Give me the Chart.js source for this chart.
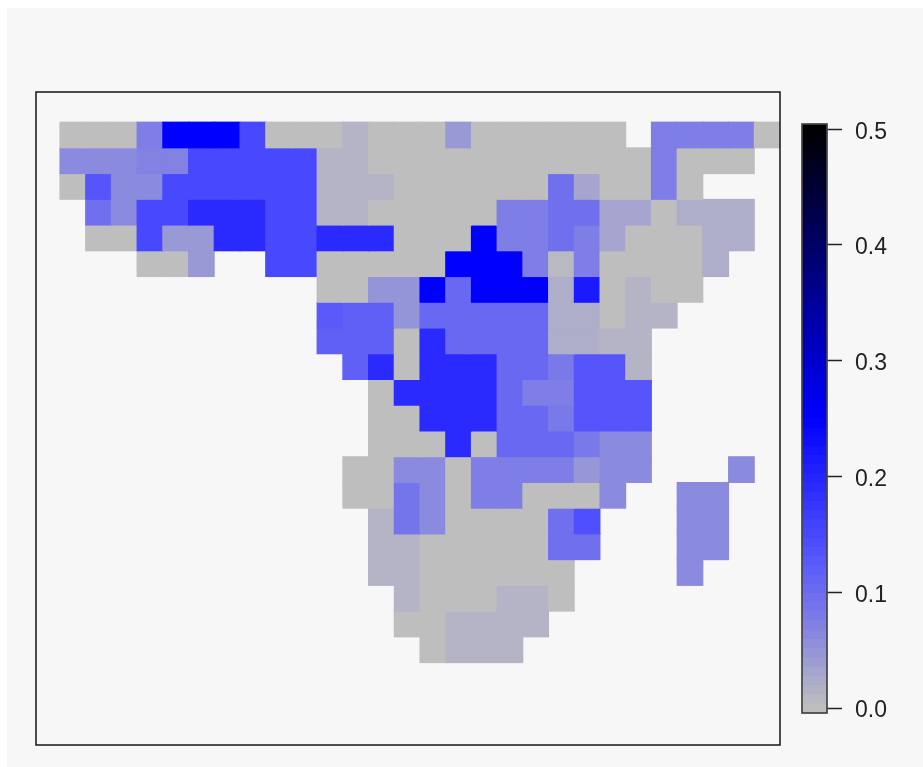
<!DOCTYPE html>
<html>
<head>
<meta charset="utf-8">
<title>Grid map with colour bar</title>
<script src="https://cdn.jsdelivr.net/npm/chart.js@4"></script>
<style>
  html, body { margin: 0; background: #fff; }
  #panel { position: absolute; left: 7px; top: 8px; width: 916px; height: 759px; background: #f7f7f7; }
  #mapChart { position: absolute; left: 0; top: 0; }
  #barChart { position: absolute; left: 797px; top: 100px; }
</style>
</head>
<body>
<div id="panel"></div>
<canvas id="mapChart" width="923" height="767"></canvas>
<canvas id="barChart" width="126" height="640"></canvas>
<script>
// ===== Data =====
const columnCount = 28;
const colorTicks = [0, 0.1, 0.2, 0.3, 0.4, 0.5];
const colorRange = [-0.0043, 0.5045];

// one row per line, top to bottom, null = no data
const _ = null;
const gridValues = [
  [0, 0, 0, .075, .25, .25, .25, .15, 0, 0, 0, .013, 0, 0, 0, .044, 0, 0, 0, 0, 0, 0, _, .075, .075, .075, .075, 0],
  [.061, .061, .061, .07, .07, .15, .15, .15, .15, .15, .013, .013, 0, 0, 0, 0, 0, 0, 0, 0, 0, 0, 0, .075, 0, 0, 0, _],
  [0, .132, .061, .061, .15, .15, .15, .15, .15, .15, .013, .013, .013, 0, 0, 0, 0, 0, 0, .094, .031, 0, 0, .075, 0, _, _, _],
  [_, .094, .061, .15, .15, .192, .192, .192, .15, .15, .013, .013, 0, 0, 0, 0, 0, .075, .075, .094, .094, .031, .031, 0, .02, .02, .02, _],
  [_, 0, 0, .15, .044, .044, .192, .192, .15, .15, .192, .192, .192, 0, 0, 0, .25, .075, .075, .094, .075, .031, 0, 0, 0, .02, .02, _],
  [_, _, _, 0, 0, .044, _, _, .15, .15, 0, 0, 0, 0, 0, .25, .25, .25, .075, 0.006, .075, 0, 0, 0, 0, .02, _, _],
  [_, _, _, _, _, _, _, _, _, _, 0, 0, .05, .05, .25, .106, .25, .25, .25, .02, .214, 0, .013, 0, 0, _, _, _],
  [_, _, _, _, _, _, _, _, _, _, .125, .117, .117, .05, .106, .106, .106, .106, .106, .02, .02, 0, .013, .013, _, _, _, _],
  [_, _, _, _, _, _, _, _, _, _, .117, .117, .117, 0, .192, .106, .106, .106, .106, .02, .02, .013, .013, _, _, _, _, _],
  [_, _, _, _, _, _, _, _, _, _, _, .117, .192, 0, .192, .192, .192, .106, .106, .082, .132, .132, .013, _, _, _, _, _],
  [_, _, _, _, _, _, _, _, _, _, _, _, 0, .192, .192, .192, .192, .106, .075, .075, .132, .132, .132, _, _, _, _, _],
  [_, _, _, _, _, _, _, _, _, _, _, _, 0, 0, .192, .192, .192, .106, .106, .082, .132, .132, .132, _, _, _, _, _],
  [_, _, _, _, _, _, _, _, _, _, _, _, 0, 0, 0, .192, 0, .106, .106, .106, .082, .061, .061, _, _, _, _, _],
  [_, _, _, _, _, _, _, _, _, _, _, 0, 0, .061, .061, 0, .075, .075, .075, .075, .047, .061, .061, _, _, _, .061, _],
  [_, _, _, _, _, _, _, _, _, _, _, 0, 0, .088, .061, 0, .075, .075, 0, 0, 0, .061, _, _, .061, .061, _, _],
  [_, _, _, _, _, _, _, _, _, _, _, _, .013, .088, .061, 0, 0, 0, 0, .094, .14, _, _, _, .061, .061, _, _],
  [_, _, _, _, _, _, _, _, _, _, _, _, .013, .013, 0, 0, 0, 0, 0, .094, .094, _, _, _, .061, .061, _, _],
  [_, _, _, _, _, _, _, _, _, _, _, _, .013, .013, 0, 0, 0, 0, 0, 0, _, _, _, _, .061, _, _, _],
  [_, _, _, _, _, _, _, _, _, _, _, _, _, .013, 0, 0, 0, .013, .013, 0, _, _, _, _, _, _, _, _],
  [_, _, _, _, _, _, _, _, _, _, _, _, _, 0, 0, .013, .013, .013, .013, _, _, _, _, _, _, _, _, _],
  [_, _, _, _, _, _, _, _, _, _, _, _, _, _, 0, .013, .013, .013, _, _, _, _, _, _, _, _, _, _]
];

// ===== Colour ramp (grey > blue > black) =====
const rampStops = [0, 0.025, 0.05, 0.075, 0.1, 0.125, 0.15, 0.2, 0.25, 0.5];
const rampReds = [190, 170, 148, 126, 108, 90, 72, 36, 0, 0];
const rampBlues = [190, 205, 216, 230, 240, 250, 255, 255, 255, 0];

function lookup(stops, outs, v) {
  if (v <= stops[0]) return outs[0];
  for (let i = 1; i < stops.length; i++) {
    if (v <= stops[i]) {
      const t = (v - stops[i - 1]) / (stops[i] - stops[i - 1]);
      return Math.round(outs[i - 1] + (outs[i] - outs[i - 1]) * t);
    }
  }
  return outs[outs.length - 1];
}

function colorFor(v) {
  const r = lookup(rampStops, rampReds, v);
  return `rgb(${r},${r},${lookup(rampStops, rampBlues, v)})`;
}

// ===== Shared frame plugin =====
const framePlugin = {
  id: 'frame',
  afterDatasetsDraw(chart, args, opts) {
    const { left, top, width, height } = chart.chartArea;
    chart.ctx.save();
    chart.ctx.strokeStyle = opts.color;
    chart.ctx.lineWidth = opts.width;
    chart.ctx.strokeRect(left, top, width, height);
    chart.ctx.restore();
  }
};

// tick labels sit a little under their tick marks, which ticks options can't do
const tickLabelPlugin = {
  id: 'tickLabels',
  afterDraw(chart) {
    const { ctx, scales: { y } } = chart;
    ctx.save();
    ctx.fillStyle = '#222';
    ctx.font = '23px "Liberation Sans", Arial, sans-serif';
    ctx.textBaseline = 'middle';
    colorTicks.forEach(t => ctx.fillText(t.toFixed(1), y.left + 28, y.getPixelForValue(t) + 3));
    ctx.restore();
  }
};

// ===== Map =====
const mapDatasets = gridValues.map((row, r) => ({
  data: row
    .map((v, c) => ({ x: c + 0.5, y: [r, r + 1], v }))
    .filter(d => d.v !== null),
  backgroundColor: ctx => colorFor(ctx.raw.v),
  borderWidth: 0,
  inflateAmount: 0.5,
  barPercentage: 1,
  categoryPercentage: 1,
  grouped: false
}));

new Chart(document.getElementById('mapChart'), {
  type: 'bar',
  data: { datasets: mapDatasets },
  options: {
    responsive: false,
    animation: false,
    layout: { padding: { left: 36, top: 92, right: 143, bottom: 22 } },
    plugins: {
      legend: { display: false },
      tooltip: { enabled: false },
      frame: { color: '#222', width: 1.6 }
    },
    scales: {
      x: { type: 'linear', display: false, offset: false, min: -0.93, max: columnCount },
      y: { display: false, reverse: true, min: -1.17, max: 24.2 }
    }
  },
  plugins: [framePlugin]
});

// ===== Colour bar =====
const bandCount = 64;
const bandSize = (colorRange[1] - colorRange[0]) / bandCount;
const bandEdges = Array.from({ length: bandCount }, (_, i) => colorRange[0] + i * bandSize);

new Chart(document.getElementById('barChart'), {
  type: 'bar',
  data: {
    labels: [''],
    datasets: bandEdges.map(low => ({
      data: [[low, low + bandSize]],
      backgroundColor: colorFor(low + bandSize / 2),
      borderWidth: 0,
      inflateAmount: 0.5,
      barPercentage: 1,
      categoryPercentage: 1,
      grouped: false
    }))
  },
  options: {
    responsive: false,
    animation: false,
    layout: { padding: { left: 5, top: 24, right: 0, bottom: 27 } },
    plugins: {
      legend: { display: false },
      tooltip: { enabled: false },
      frame: { color: '#444', width: 1.7 }
    },
    scales: {
      x: { display: false },
      y: {
        position: 'right',
        min: colorRange[0],
        max: colorRange[1],
        afterBuildTicks: axis => { axis.ticks = colorTicks.map(value => ({ value })); },
        afterFit: axis => { axis.width = 96; axis.paddingTop = 0; axis.paddingBottom = 0; },
        border: { display: false },
        grid: { drawOnChartArea: false, tickLength: 15, tickColor: '#222', tickWidth: 1.5 },
        ticks: { display: false }
      }
    }
  },
  plugins: [framePlugin, tickLabelPlugin]
});
</script>
</body>
</html>
